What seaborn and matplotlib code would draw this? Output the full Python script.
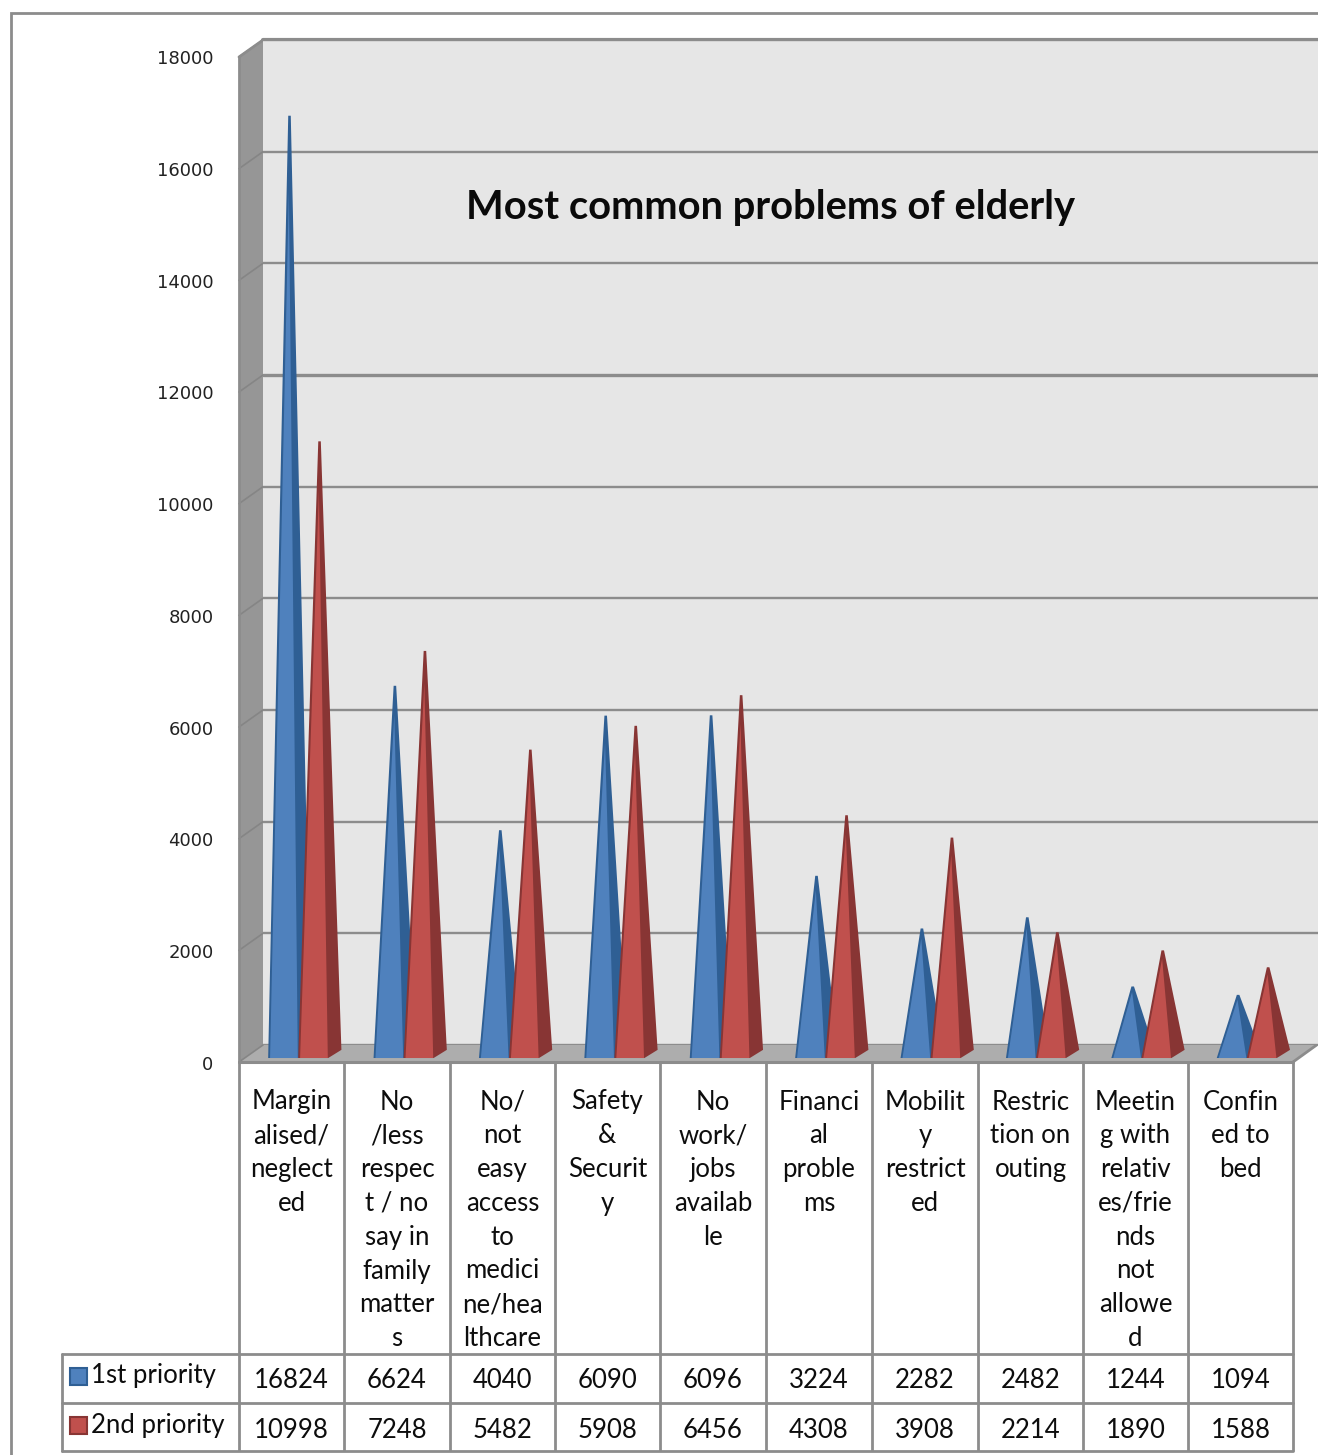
import matplotlib
matplotlib.use('Agg')
import matplotlib.pyplot as plt
from matplotlib.patches import Polygon, Rectangle
from matplotlib.transforms import ScaledTranslation
import pandas as pd
import seaborn as sns

problems = ['Margin\nalised/\nneglect\ned',
            'No\n/less\nrespec\nt / no\nsay in\nfamily\nmatter\ns',
            'No/\nnot\neasy\naccess\nto\nmedici\nne/hea\nlthcare',
            'Safety\n&\nSecurit\ny',
            'No\nwork/\njobs\navailab\nle',
            'Financi\nal\nproble\nms',
            'Mobilit\ny\nrestrict\ned',
            'Restric\ntion on\nouting',
            'Meetin\ng with\nrelativ\nes/frie\nnds\nnot\nallowe\nd',
            'Confin\ned to\nbed']
first_priority = [16824, 6624, 4040, 6090, 6096, 3224, 2282, 2482, 1244, 1094]
second_priority = [10998, 7248, 5482, 5908, 6456, 4308, 3908, 2214, 1890, 1588]
series_names = ['1st priority', '2nd priority']
y_ticks = [0, 2000, 4000, 6000, 8000, 10000, 12000, 14000, 16000, 18000]

W, H = 1318, 1455
FACE = {'1st priority': '#4f81bd', '2nd priority': '#c0504d'}
SIDE = {'1st priority': '#2f5f94', '2nd priority': '#883534'}
LINE = '#8c8c8c'
TEXT = '#0d0d0d'
TABLE_SIZE = 18.5


def px_rect(left, right, top, bottom):
    # pixel box (from top left of the image) to figure fractions
    return [left / W, 1 - bottom / H, (right - left) / W, (bottom - top) / H]


df = pd.DataFrame({
    'problem': problems * 2,
    'priority': [series_names[0]] * 10 + [series_names[1]] * 10,
    'count': first_priority + second_priority,
})

sns.set_theme(style='white')
plt.rcParams['font.family'] = ['Lato', 'DejaVu Sans']

fig = plt.figure(figsize=(W / 100, H / 100), dpi=100, facecolor='white')

# pixel layer: frame, side wall, floor and the data table
base = fig.add_axes([0, 0, 1, 1], zorder=0)
base.set_xlim(0, W)
base.set_ylim(H, 0)
base.axis('off')

base.plot([11, 11, W], [H, 13, 13], color=LINE, lw=2, solid_joinstyle='miter')
base.add_patch(Polygon([(239, 57), (263, 40), (263, 1045), (239, 1062)], color='#969696', lw=0))
base.add_patch(Polygon([(239, 1062), (263, 1045), (W, 1045), (W, 1045), (1293, 1062)], color='#adadad', lw=0))
base.plot([1293, 1318], [1062, 1044], color=LINE, lw=2)

# back wall with its gridlines
wall = fig.add_axes(px_rect(263, W, 40, 1045), zorder=1)
wall.set_facecolor('#e6e6e6')
wall.set_ylim(0, 18000)
wall.set_xticks([])
wall.set_yticks(y_ticks)
wall.tick_params(left=False, labelleft=False)
wall.grid(axis='y', color=LINE, lw=1.7)
wall.yaxis.get_gridlines()[6].set_linewidth(2.4)
sns.despine(ax=wall, left=True, right=True, top=True, bottom=True)
wall.set_axisbelow(True)
for y in y_ticks:
    py = 1045 - y * 1005 / 18000
    base.plot([239, 263], [py + 17, py], color='#858585', lw=1.2)
base.plot([239, 263], [57, 40], color=LINE, lw=2)
base.plot([263, W], [40, 40], color=LINE, lw=3)
base.plot([239, 239], [57, 1062], color=LINE, lw=2)

# cones: positions come from the seaborn bars, which are then hidden
ax = fig.add_axes(px_rect(245.5, 1299.5, 50, 1056), zorder=2)
ax.patch.set_alpha(0)
sns.barplot(data=df, x='problem', y='count', hue='priority', hue_order=series_names,
            palette=FACE, width=0.57, gap=0, errorbar=None, legend=False, ax=ax)
ax.set_xlim(-0.5, 9.5)
ax.set_ylim(0, 18000)
ax.set_xlabel('')
ax.set_ylabel('')
ax.set_xticks([])
ax.set_yticks(y_ticks)
ax.set_yticklabels([str(v) for v in y_ticks], fontsize=13, color='#222222')
ax.tick_params(axis='y', left=False, pad=17)
for label in ax.get_yticklabels():
    label.set_family('DejaVu Sans')
    label.set_transform(label.get_transform() + ScaledTranslation(0, -5 / 72, fig.dpi_scale_trans))
sns.despine(ax=ax, left=True, bottom=True)

# cone feet sit slightly in front of the value axis zero
foot = -36
depth_x, depth_y = 0.125, 110
for name, container in zip(series_names, ax.containers):
    for bar in container:
        bar.set_visible(False)
        x0 = bar.get_x()
        x1 = x0 + bar.get_width()
        tip = bar.get_height()
        apex = (x0 + x1) / 2 + 0.06
        ax.add_patch(Polygon([(x0, foot), (apex - 0.012, tip), (apex + 0.012, tip),
                              (x1 + depth_x, depth_y), (x1, foot)],
                             facecolor=SIDE[name], edgecolor='none', clip_on=False, zorder=3))
        ax.add_patch(Polygon([(x0 + 0.018, foot), (apex - 0.006, tip * 0.92), (x1 - 0.004, foot)],
                             facecolor=FACE[name], edgecolor='none', clip_on=False, zorder=3))

ax.text(771, 208, 'Most common problems of elderly', transform=base.transData,
        ha='center', va='center', fontsize=28.7, fontweight='bold', color='#0a0a0a')

# data table under the chart
col_edges = [239, 344, 450, 555, 660, 766, 872, 978, 1083, 1188, 1293]
row_edges = [1354, 1403, 1451]
for x in col_edges:
    base.plot([x, x], [1062, 1451], color=LINE, lw=2, solid_capstyle='butt')
base.plot([62, 62], [1354, 1451], color=LINE, lw=2)
base.plot([239, 1293], [1062, 1062], color=LINE, lw=2.2)
for y in row_edges:
    base.plot([62, 1293], [y, y], color=LINE, lw=2)

for i, text in enumerate(problems):
    cx = (col_edges[i] + col_edges[i + 1]) / 2
    for j, part in enumerate(text.split('\n')):
        base.text(cx, 1102 + j * 33.8, part, ha='center', va='center',
                  fontsize=TABLE_SIZE, color=TEXT)
    base.text(cx, 1380, str(first_priority[i]), ha='center', va='center',
              fontsize=TABLE_SIZE, color=TEXT)
    base.text(cx, 1430, str(second_priority[i]), ha='center', va='center',
              fontsize=TABLE_SIZE, color=TEXT)

for name, y in zip(series_names, [1376, 1425]):
    base.add_patch(Rectangle((70, y - 8), 17, 17, facecolor=FACE[name], edgecolor=SIDE[name], lw=1.5))
    base.text(91, y, name, ha='left', va='center', fontsize=TABLE_SIZE, color=TEXT)

fig.savefig('out.png', dpi=100)
